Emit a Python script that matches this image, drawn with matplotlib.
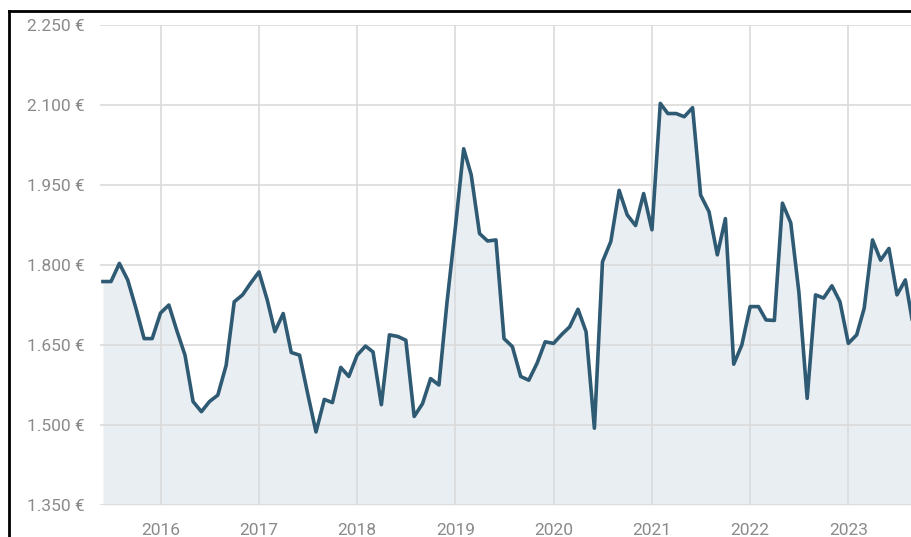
import matplotlib
matplotlib.use("Agg")
import matplotlib.pyplot as plt
import matplotlib.dates as mdates
from matplotlib.ticker import FuncFormatter
from matplotlib.lines import Line2D
import pandas as pd

# Monatswerte ab Juni 2015
start_month = "2015-06-01"
values = [
    1769, 1769, 1803, 1772, 1720, 1662, 1662,                   # 2015
    1710, 1725, 1678, 1631, 1544, 1525, 1544, 1556, 1612, 1731, 1744, 1766,  # 2016
    1787, 1734, 1675, 1709, 1636, 1631, 1559, 1487, 1548, 1542, 1608, 1591,  # 2017
    1631, 1648, 1637, 1538, 1669, 1666, 1659, 1516, 1540, 1587, 1575, 1730,  # 2018
    1870, 2018, 1969, 1859, 1845, 1847, 1662, 1647, 1591, 1584, 1616, 1656,  # 2019
    1653, 1670, 1684, 1717, 1675, 1494, 1806, 1844, 1940, 1894, 1874, 1934,  # 2020
    1866, 2103, 2084, 2084, 2078, 2095, 1931, 1900, 1819, 1887, 1614, 1650,  # 2021
    1722, 1722, 1697, 1696, 1916, 1879, 1750, 1550, 1744, 1738, 1761, 1731,  # 2022
    1653, 1669, 1719, 1847, 1809, 1831, 1744, 1772, 1680,                    # 2023
]
y_ticks = [1350, 1500, 1650, 1800, 1950, 2100, 2250]
x_years = [2016, 2017, 2018, 2019, 2020, 2021, 2022, 2023]

dates = pd.date_range(start_month, periods=len(values), freq="MS")

line_color = "#2f5a73"
fill_color = "#e9eef2"
grid_color = "#dadada"
text_color = "#8a8a8a"

fig = plt.figure(figsize=(9.11, 5.37), dpi=100)
ax = fig.add_axes([100 / 911, 32 / 537, 811 / 911, 480 / 537])

# Fläche unter der Linie, Gitter liegt darüber
ax.fill_between(dates, values, 1350, color=fill_color, lw=0, zorder=0.1)
ax.plot(dates, values, color=line_color, lw=2.6, solid_joinstyle="round", zorder=3)

ax.set_ylim(1350, 2250)
ax.set_xlim(pd.Timestamp("2015-05-21"), pd.Timestamp("2023-08-22"))

ax.set_yticks(y_ticks)
ax.yaxis.set_major_formatter(FuncFormatter(lambda v, p: f"{v:,.0f} €".replace(",", ".")))
ax.set_xticks([pd.Timestamp(f"{y}-01-01") for y in x_years])
ax.xaxis.set_major_formatter(mdates.DateFormatter("%Y"))

ax.set_axisbelow(True)
ax.grid(True, color=grid_color, lw=1.2)
for s in ax.spines.values():
    s.set_visible(False)
ax.tick_params(axis="both", length=0, labelcolor=text_color, labelsize=12.5)
ax.tick_params(axis="y", pad=11)
ax.tick_params(axis="x", pad=13)
for lbl in ax.get_xticklabels() + ax.get_yticklabels():
    lbl.set_fontfamily("Roboto")

# schwarzer Rahmen (oben und links sichtbar)
fig.add_artist(Line2D([8.5 / 911, 8.5 / 911], [0, 1 - 10.5 / 537], transform=fig.transFigure,
                      color="black", lw=2, solid_capstyle="projecting"))
fig.add_artist(Line2D([8.5 / 911, 1], [1 - 10.5 / 537, 1 - 10.5 / 537], transform=fig.transFigure,
                      color="black", lw=2, solid_capstyle="projecting"))

fig.savefig("out.png", dpi=100)
